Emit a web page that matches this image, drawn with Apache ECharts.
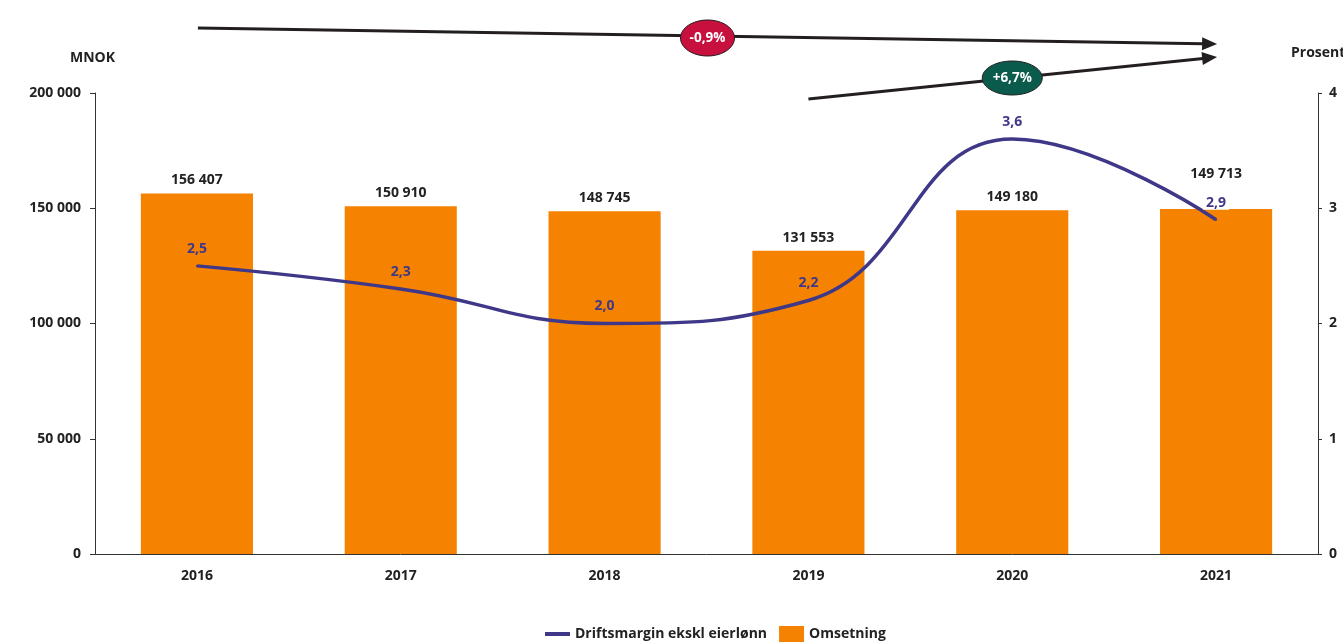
<!DOCTYPE html>
<html>
<head>
<meta charset="utf-8">
<script src="https://cdn.jsdelivr.net/npm/echarts@6/dist/echarts.min.js"></script>
<style>
  html, body { margin: 0; padding: 0; background: #fff; }
  #chart { width: 1343px; height: 642px; }
</style>
</head>
<body>
<div id="chart"></div>
<script>
// Data
const years = ['2016', '2017', '2018', '2019', '2020', '2021'];
const omsetning = [156407, 150910, 148745, 131553, 149180, 149713];
const driftsmargin = [2.5, 2.3, 2.0, 2.2, 3.6, 2.9];
const leftTicks = [0, 50000, 100000, 150000, 200000];
const rightTicks = [0, 1, 2, 3, 4];
const changeOmsetning = '-0,9%';
const changeMargin = '+6,7%';

const FONT = '"Open Sans", "Noto Sans", sans-serif';
const TEXT = '#222222';
const ORANGE = '#F58200';
const PURPLE = '#3F3889';
const FS = 14;

const fmtThousands = v => String(Math.round(v)).replace(/\B(?=(\d{3})+(?!\d))/g, ' ');
const fmtDecimal = v => String(v.toFixed(1)).replace('.', ',');

const chart = echarts.init(document.getElementById('chart'), null, { renderer: 'canvas' });

const barData = omsetning.map((v, i) => {
  const item = { value: v };
  // last label lifted clear of the margin label
  if (i === omsetning.length - 1) item.label = { offset: [0, -22] };
  return item;
});

const lineData = driftsmargin.map((v, i) => {
  const item = { value: v };
  if (i === driftsmargin.length - 1) {
    item.label = { backgroundColor: '#ffffff', padding: [1, 3, 0, 3] };
  }
  return item;
});

chart.setOption({
  animation: false,
  textStyle: { fontFamily: FONT },
  grid: { left: 95, right: 25, top: 93, bottom: 88, containLabel: false, outerBoundsMode: 'none' },
  legend: {
    left: 540,
    top: 621,
    padding: 5,
    itemGap: 12,
    itemWidth: 25,
    itemHeight: 16,
    textStyle: { fontFamily: FONT, fontSize: FS, fontWeight: 'bold', color: TEXT },
    data: [
      { name: 'Driftsmargin ekskl eierlønn', icon: 'path://M0,6 L25,6 L25,10 L0,10 Z', itemStyle: { color: PURPLE } },
      { name: 'Omsetning', icon: 'rect' }
    ]
  },
  xAxis: {
    type: 'category',
    data: years,
    axisLine: { lineStyle: { color: '#333', width: 1 } },
    axisTick: { show: false },
    axisLabel: { color: TEXT, fontSize: FS, fontWeight: 'bold', margin: 15, fontFamily: FONT }
  },
  yAxis: [
    {
      type: 'value',
      min: leftTicks[0],
      max: leftTicks[leftTicks.length - 1],
      interval: leftTicks[1] - leftTicks[0],
      name: 'MNOK',
      nameLocation: 'end',
      nameGap: 28,
      nameTextStyle: { color: TEXT, fontSize: FS, fontWeight: 'bold', align: 'left', padding: [0, 0, 0, -25] },
      axisLine: { show: true, lineStyle: { color: '#333' } },
      axisTick: { show: true, length: 5, lineStyle: { color: '#333' } },
      splitLine: { show: false },
      axisLabel: { color: TEXT, fontSize: FS, fontWeight: 'bold', margin: 14, formatter: fmtThousands, fontFamily: FONT }
    },
    {
      type: 'value',
      min: rightTicks[0],
      max: rightTicks[rightTicks.length - 1],
      interval: rightTicks[1] - rightTicks[0],
      position: 'right',
      name: 'Prosent',
      nameLocation: 'end',
      nameGap: 33,
      nameTextStyle: { color: TEXT, fontSize: FS, fontWeight: 'bold', align: 'left', padding: [0, 0, 0, -27] },
      axisLine: { show: true, lineStyle: { color: '#333' } },
      axisTick: { show: true, length: 4, lineStyle: { color: '#333' } },
      splitLine: { show: false },
      axisLabel: { color: TEXT, fontSize: FS, fontWeight: 'bold', margin: 11, fontFamily: FONT }
    }
  ],
  series: [
    {
      name: 'Omsetning',
      type: 'bar',
      yAxisIndex: 0,
      barWidth: '55%',
      itemStyle: { color: ORANGE },
      z: 2,
      label: {
        show: true,
        position: 'top',
        distance: 6,
        color: TEXT,
        fontSize: FS,
        fontWeight: 'bold',
        fontFamily: FONT,
        formatter: p => fmtThousands(p.value)
      },
      data: barData
    },
    {
      name: 'Driftsmargin ekskl eierlønn',
      type: 'line',
      yAxisIndex: 1,
      smooth: 0.45,
      symbol: 'circle',
      symbolSize: 2,
      showSymbol: true,
      lineStyle: { color: PURPLE, width: 3.5 },
      itemStyle: { color: PURPLE },
      z: 5,
      label: {
        show: true,
        position: 'top',
        distance: 9,
        color: PURPLE,
        fontSize: FS,
        fontWeight: 'bold',
        fontFamily: FONT,
        formatter: p => fmtDecimal(p.value)
      },
      data: lineData
    }
  ]
});

// Trend arrows with change badges above the plot
function arrow(x1, y1, x2, y2) {
  const dx = x2 - x1, dy = y2 - y1;
  const len = Math.sqrt(dx * dx + dy * dy);
  const ux = dx / len, uy = dy / len;
  const headLen = 15, headHalf = 6.5;
  const bx = x2 - ux * headLen, by = y2 - uy * headLen;
  return [
    {
      type: 'line',
      shape: { x1: x1, y1: y1, x2: bx + ux * 1, y2: by + uy * 1 },
      style: { stroke: '#231f20', lineWidth: 3 },
      z: 10
    },
    {
      type: 'polygon',
      shape: { points: [[x2, y2], [bx - uy * headHalf, by + ux * headHalf], [bx + uy * headHalf, by - ux * headHalf]] },
      style: { fill: '#231f20' },
      z: 10
    }
  ];
}

function badge(cx, cy, rx, ry, fill, text) {
  return [
    {
      type: 'ellipse',
      shape: { cx: cx, cy: cy, rx: rx, ry: ry },
      style: { fill: fill, stroke: '#231f20', lineWidth: 1 },
      z: 11
    },
    {
      type: 'text',
      x: cx,
      y: cy,
      style: {
        text: text,
        fill: '#ffffff',
        font: 'bold 13.5px ' + FONT,
        align: 'center',
        verticalAlign: 'middle'
      },
      z: 12
    }
  ];
}

const px = cat => chart.convertToPixel({ xAxisIndex: 0 }, cat);
const x16 = px('2016'), x18 = px('2018'), x19 = px('2019'), x20 = px('2020'), x21 = px('2021');

chart.setOption({
  graphic: [
    ...arrow(x16 + 1, 28, x21 + 1, 44),
    ...arrow(x19, 99, x21 + 1, 57),
    ...badge((x18 + x19) / 2 + 1, 38, 27, 18, '#C8103E', changeOmsetning),
    ...badge(x20, 78, 30, 17, '#0B5B4D', changeMargin)
  ]
});
</script>
</body>
</html>
